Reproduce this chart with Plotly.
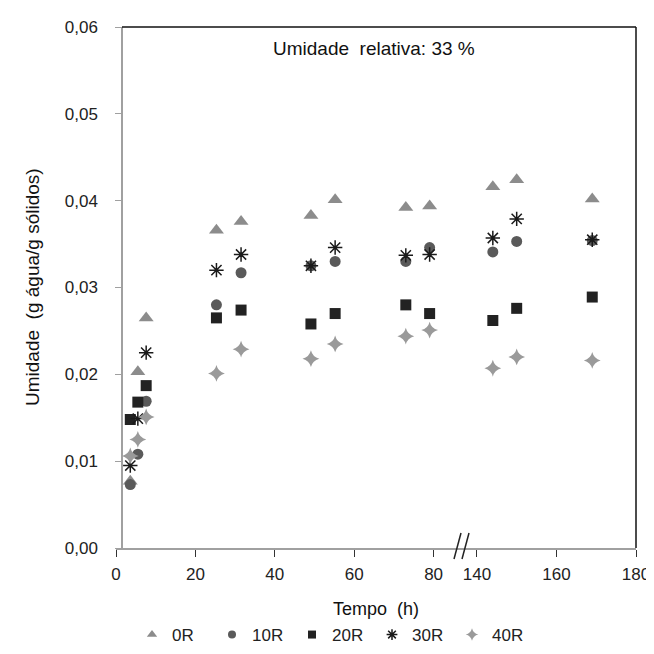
import plotly.graph_objects as go

# ---- data ----
tempo = [3.6, 5.5, 7.6, 25.3, 31.5, 49.1, 55.2, 73.0, 79.0, 144.0, 150.0, 169.0]
u_0R  = [0.0077, 0.0203, 0.0265, 0.0366, 0.0376, 0.0383, 0.0401, 0.0392, 0.0394, 0.0416, 0.0424, 0.0402]
u_10R = [0.0073, 0.0108, 0.0169, 0.0280, 0.0317, 0.0325, 0.0330, 0.0330, 0.0346, 0.0341, 0.0353, 0.0354]
u_20R = [0.0148, 0.0168, 0.0187, 0.0265, 0.0274, 0.0258, 0.0270, 0.0280, 0.0270, 0.0262, 0.0276, 0.0289]
u_30R = [0.0095, 0.0149, 0.0225, 0.0320, 0.0338, 0.0325, 0.0346, 0.0337, 0.0338, 0.0357, 0.0379, 0.0355]
u_40R = [0.0106, 0.0125, 0.0151, 0.0201, 0.0229, 0.0218, 0.0235, 0.0244, 0.0251, 0.0207, 0.0220, 0.0216]

series_names = ["0R", "10R", "20R", "30R", "40R"]
series_vals = [u_0R, u_10R, u_20R, u_30R, u_40R]

x1_ticks = [0, 20, 40, 60, 80]
x2_ticks = [140, 160, 180]
y_ticks = [0.0, 0.01, 0.02, 0.03, 0.04, 0.05, 0.06]
y_ticktext = ["0,00", "0,01", "0,02", "0,03", "0,04", "0,05", "0,06"]
break_at = 100  # times below go on the left segment

styles = {
    "0R": dict(symbol="triangle-up", color="#8c8c8c", size=13),
    "10R": dict(symbol="circle", color="#5a5a5a", size=11),
    "20R": dict(symbol="square", color="#222222", size=11),
    "30R": dict(symbol="asterisk-open", color="#1a1a1a", size=12),
    "40R": dict(symbol="star-diamond", color="#9a9a9a", size=12),
}
legend_sizes = {"0R": 9, "10R": 8, "20R": 8, "30R": 9, "40R": 9}

FONT = "Liberation Sans, Arial, sans-serif"
fig = go.Figure()


def marker_of(name, size):
    st = styles[name]
    m = dict(symbol=st["symbol"], color=st["color"], size=size, line=dict(width=0))
    if st["symbol"].endswith("open"):
        m["line"] = dict(width=1.5, color=st["color"])
    return m


for name, vals in zip(series_names, series_vals):
    xa = [t for t in tempo if t < break_at]
    ya = [v for t, v in zip(tempo, vals) if t < break_at]
    xb = [t for t in tempo if t >= break_at]
    yb = [v for t, v in zip(tempo, vals) if t >= break_at]
    m = marker_of(name, styles[name]["size"])
    fig.add_trace(go.Scatter(x=xa, y=ya, mode="markers", name=name, legendgroup=name,
                             marker=m, xaxis="x", yaxis="y", showlegend=False))
    fig.add_trace(go.Scatter(x=xb, y=yb, mode="markers", name=name, legendgroup=name,
                             marker=m, xaxis="x2", yaxis="y", showlegend=False))
    # legend-only entry with the smaller legend symbol
    fig.add_trace(go.Scatter(x=[None], y=[None], mode="markers", name=name, legendgroup=name,
                             marker=marker_of(name, legend_sizes[name]),
                             xaxis="x", yaxis="y", showlegend=True))

L, R, T, B = 108, 26, 19, 114
W, H = 654 - L - R, 654 - T - B
BRK = 455
split = (BRK - L) / W
yaxis_pos = (114 - L) / W
TICK = 17

axis_common = dict(showline=True, linecolor="#a0a0a0", linewidth=1.5, ticks="outside",
                   ticklen=7, tickcolor="#333333", tickwidth=1.2, showgrid=False, zeroline=False,
                   automargin=False, ticklabelstandoff=3,
                   tickfont=dict(family=FONT, size=TICK, color="#222222"))

fig.update_layout(
    width=654, height=654,
    margin=dict(l=L, r=R, t=T, b=B, autoexpand=False),
    paper_bgcolor="white", plot_bgcolor="white",
    font=dict(family=FONT, size=TICK, color="#222222"),
    xaxis=dict(domain=[0, split], range=[0, (BRK - L) / 3.97], tickvals=x1_ticks,
               ticktext=[str(v) for v in x1_ticks], anchor="y", **axis_common),
    xaxis2=dict(domain=[split, 1], range=[136.5, 180], tickvals=x2_ticks,
                ticktext=[str(v) for v in x2_ticks], anchor="y", **axis_common),
    yaxis=dict(range=[0, 0.06], tickvals=y_ticks, ticktext=y_ticktext, anchor="free",
               position=yaxis_pos, showline=True, linecolor="#a0a0a0", linewidth=1.5,
               ticks="outside", ticklen=6, tickcolor="#a0a0a0", showgrid=False, zeroline=False,
               ticklabelstandoff=14, automargin=False,
               tickfont=dict(family=FONT, size=TICK, color="#222222")),
    showlegend=True,
    legend=dict(orientation="h", x=(124 - L) / W, xanchor="left", xref="paper",
                y=(540 - 627) / H, yanchor="middle", yref="paper",
                font=dict(family=FONT, size=TICK, color="#222222"),
                entrywidth=35, entrywidthmode="pixels",
                itemsizing="trace", bgcolor="rgba(0,0,0,0)"),
)

# frame: top and right black lines
fig.add_shape(type="line", xref="paper", yref="paper", x0=yaxis_pos, x1=1, y0=1, y1=1,
              line=dict(color="#111111", width=1.5))
fig.add_shape(type="line", xref="paper", yref="paper", x0=1, x1=1, y0=0, y1=1,
              line=dict(color="#111111", width=1.5))
# axis break marks
for xs in [BRK - 9, BRK - 1]:
    x0 = (xs - L) / W
    fig.add_shape(type="line", xref="paper", yref="paper",
                  x0=x0, x1=x0 + 7 / W, y0=-11 / H, y1=15 / H,
                  line=dict(color="#222222", width=1.5))

fig.add_annotation(text="Umidade  relativa: 33 %", xref="paper", yref="paper",
                   x=(366 - L) / W, y=(540 - 40) / H, xanchor="center", yanchor="middle",
                   showarrow=False, font=dict(family=FONT, size=19, color="#111111"))
fig.add_annotation(text="Tempo  (h)", xref="paper", yref="paper",
                   x=(368 - L) / W, y=(540 - 601) / H, xanchor="center", yanchor="middle",
                   showarrow=False, font=dict(family=FONT, size=18, color="#111111"))
fig.add_annotation(text="Umidade  (g água/g sólidos)", xref="paper", yref="paper",
                   x=(24 - L) / W, y=(540 - 279) / H, xanchor="center", yanchor="middle",
                   showarrow=False, textangle=-90,
                   font=dict(family=FONT, size=19, color="#111111"))

fig.write_html("out.html")
